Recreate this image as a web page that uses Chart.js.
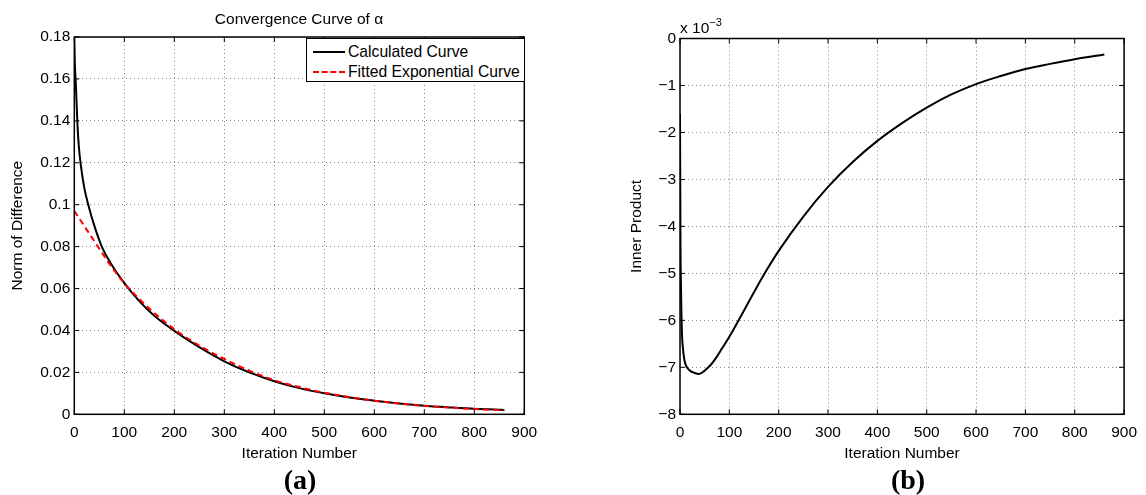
<!DOCTYPE html>
<html>
<head>
<meta charset="utf-8">
<script src="https://cdn.jsdelivr.net/npm/chart.js@4.4.1/dist/chart.umd.min.js"></script>
<style>
  body { margin: 0; background: #fff; width: 1146px; height: 495px; position: relative; overflow: hidden;
         font-family: 'Liberation Sans', Arial, sans-serif; }
  canvas { position: absolute; top: 0; }
  #chartA { left: 0; }
  #chartB { left: 573px; }
  .panel { position: absolute; top: 480px; transform: translate(-50%, -50%);
           font-family: 'Liberation Serif', 'Times New Roman', serif; font-weight: bold; font-size: 28px; }
  #titleA { position: absolute; left: 299px; top: 19px; transform: translate(-50%, -50%);
            font-size: 15.5px; white-space: nowrap; }
  #legendA { position: absolute; left: 306px; top: 38px; width: 217px; height: 42px;
             border: 1.5px solid #000; background: #fff; z-index: 2; font-size: 15.7px; }
  #legendA .row { position: absolute; left: 0; height: 18px; line-height: 18px; white-space: nowrap; }
  #legendA .swatch { position: absolute; left: 6px; top: 8px; width: 32px; height: 0; }
  #legendA .txt { position: absolute; left: 41px; top: 0; }
  #scaleB { position: absolute; left: 680px; top: 19px; font-size: 15.5px; }
  #scaleB sup { font-size: 11px; position: relative; top: -3px; vertical-align: top; }
</style>
</head>
<body>
<canvas id="chartA" width="573" height="495"></canvas>
<canvas id="chartB" width="573" height="495"></canvas>
<div id="titleA"></div>
<div id="legendA"></div>
<div id="scaleB">x 10<sup>−3</sup></div>
<div class="panel" style="left:300px">(a)</div>
<div class="panel" style="left:908px">(b)</div>
<script>
// ---- data ----
const titleA = 'Convergence Curve of α';
const seriesNames = ['Calculated Curve', 'Fitted Exponential Curve'];

// (a) norm of difference
const iterA = [0, 1, 3, 6, 9, 13, 20, 29, 40, 55, 75, 100, 130, 160, 200, 250, 300, 350, 400, 450, 500, 550, 600, 650, 700, 750, 800, 860];
const calcA = [0.180, 0.168, 0.158, 0.140, 0.128, 0.119, 0.108, 0.099, 0.090, 0.080, 0.0712, 0.0626, 0.054, 0.047, 0.0398, 0.032, 0.0253, 0.0200, 0.0158, 0.0125, 0.0100, 0.0080, 0.0065, 0.0052, 0.0041, 0.0033, 0.0026, 0.0021];
const iterFit = [0, 25, 50, 75, 100, 150, 200, 250, 300, 350, 400, 450, 500, 550, 600, 650, 700, 750, 800, 860];
const fitA = [0.097, 0.088, 0.079, 0.0702, 0.0625, 0.0505, 0.0406, 0.0328, 0.0264, 0.0208, 0.0163, 0.0130, 0.0103, 0.0082, 0.0065, 0.0051, 0.0040, 0.0032, 0.0025, 0.0019];

// (b) inner product, in units of 1e-3
const iterB = [0, 1, 2, 3, 4, 6, 9, 13, 20, 30, 38, 45, 53, 63, 73, 85, 100, 125, 150, 175, 200, 250, 300, 350, 400, 450, 500, 550, 600, 650, 700, 750, 800, 860];
const innerB = [-1.6, -4.4, -5.3, -5.9, -6.3, -6.6, -6.85, -6.98, -7.07, -7.12, -7.14, -7.11, -7.04, -6.94, -6.80, -6.60, -6.35, -5.88, -5.40, -4.94, -4.52, -3.79, -3.16, -2.63, -2.18, -1.80, -1.47, -1.19, -0.97, -0.80, -0.65, -0.54, -0.44, -0.34];

// tick labels
const xTicks = ['0', '100', '200', '300', '400', '500', '600', '700', '800', '900'];
const yTicksA = ['0', '0.02', '0.04', '0.06', '0.08', '0.1', '0.12', '0.14', '0.16', '0.18'];
const yTicksB = ['−8', '−7', '−6', '−5', '−4', '−3', '−2', '−1', '0'];

const FONT = "'Liberation Sans', Arial, sans-serif";
Chart.defaults.color = '#000';
Chart.defaults.font.family = FONT;
Chart.defaults.font.size = 15.5;

const pts = (xs, ys) => xs.map((x, i) => ({ x: x, y: ys[i] }));

// box + inward tick marks like matlab axes
const frame = {
  id: 'frame',
  afterDraw(chart) {
    const { ctx, chartArea: a, scales: { x, y } } = chart;
    ctx.save();
    ctx.strokeStyle = '#000';
    ctx.lineWidth = 1;
    ctx.beginPath();
    x.ticks.forEach(t => {
      const p = x.getPixelForValue(t.value);
      ctx.moveTo(p, a.bottom); ctx.lineTo(p, a.bottom - 5);
      ctx.moveTo(p, a.top); ctx.lineTo(p, a.top + 5);
    });
    y.ticks.forEach(t => {
      const p = y.getPixelForValue(t.value);
      ctx.moveTo(a.left, p); ctx.lineTo(a.left + 5, p);
      ctx.moveTo(a.right, p); ctx.lineTo(a.right - 5, p);
    });
    ctx.stroke();
    ctx.lineWidth = 1.5;
    ctx.strokeRect(a.left, a.top, a.right - a.left, a.bottom - a.top);
    ctx.restore();
  }
};

function xScale() {
  return {
    type: 'linear', min: 0, max: 900,
    grid: { color: '#888', lineWidth: 1, drawTicks: false },
    border: { display: false, dash: [1, 3] },
    ticks: { stepSize: 100, padding: 9, maxRotation: 0, callback: (v, i) => xTicks[i] },
    title: { display: true, text: 'Iteration Number', padding: 0 },
    afterFit(s) { s.height = 49; }
  };
}

function yScale(min, max, step, labels, width, titleText, titlePad) {
  return {
    type: 'linear', min: min, max: max,
    grid: { color: '#888', lineWidth: 1, drawTicks: false },
    border: { display: false, dash: [1, 3] },
    ticks: { stepSize: step, padding: 4, callback: (v, i) => labels[i] },
    title: { display: true, text: titleText, padding: { top: titlePad, bottom: 0 } },
    afterFit(s) { s.width = width; }
  };
}

new Chart(document.getElementById('chartA'), {
  type: 'line',
  data: {
    datasets: [
      { label: seriesNames[0], data: pts(iterA, calcA), borderColor: '#000', borderWidth: 2,
        pointRadius: 0, cubicInterpolationMode: 'monotone', order: 2 },
      { label: seriesNames[1], data: pts(iterFit, fitA), borderColor: '#ff0000', borderWidth: 2,
        borderDash: [6, 4], pointRadius: 0, cubicInterpolationMode: 'monotone', order: 1 }
    ]
  },
  options: {
    responsive: false,
    animation: false,
    layout: { padding: { top: 37, right: 48.7, bottom: 31.7, left: 0 } },
    scales: {
      x: xScale(),
      y: yScale(0, 0.18, 0.02, yTicksA, 74.3, 'Norm of Difference', 8)
    },
    plugins: {
      legend: { display: false },
      tooltip: { enabled: false }
    }
  },
  plugins: [frame]
});

new Chart(document.getElementById('chartB'), {
  type: 'line',
  data: {
    datasets: [
      { label: 'Inner Product', data: pts(iterB, innerB), borderColor: '#000', borderWidth: 2,
        pointRadius: 0, cubicInterpolationMode: 'monotone' }
    ]
  },
  options: {
    responsive: false,
    animation: false,
    layout: { padding: { top: 38.5, right: 16, bottom: 31.7, left: 0 } },
    scales: {
      x: xScale(),
      y: yScale(-8, 0, 1, yTicksB, 107, 'Inner Product', 54)
    },
    plugins: {
      legend: { display: false },
      tooltip: { enabled: false }
    }
  },
  plugins: [frame]
});

document.getElementById('titleA').textContent = titleA;

// matlab-style legend box for (a)
const legendA = document.getElementById('legendA');
const styles = ['border-top: 2px solid #000', 'border-top: 2px dashed #ff0000'];
seriesNames.forEach((name, i) => {
  const row = document.createElement('div');
  row.className = 'row';
  row.style.top = (4 + i * 19.5) + 'px';
  row.innerHTML = '<div class="swatch" style="' + styles[i] + '"></div><span class="txt">' + name + '</span>';
  legendA.appendChild(row);
});
</script>
</body>
</html>
